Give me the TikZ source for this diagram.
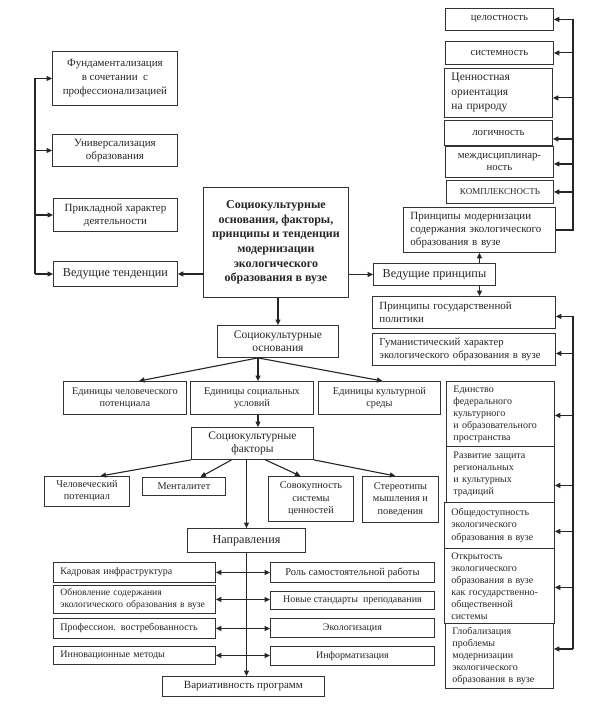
\documentclass[tikz,border=0pt]{standalone}
\usepackage{fontspec}
\setmainfont{Liberation Serif}
\usetikzlibrary{arrows.meta,calc}
\tikzset{
  bx/.style={draw=black!80, line width=0.9pt, anchor=north west, inner sep=1pt,
    align=center, text=black!85, font=\fontsize{10.3}{12}\selectfont},
  lbx/.style={bx, align=left, inner xsep=7pt},
  fa/.style={font=\fontsize{10}{12}\selectfont},
  fb/.style={font=\fontsize{10.8}{12.5}\selectfont},
  fc/.style={font=\fontsize{11}{13}\selectfont},
  fd/.style={font=\fontsize{10.7}{13}\selectfont},
  fe/.style={font=\fontsize{11.5}{13.5}\selectfont},
  ff/.style={font=\fontsize{12.2}{14}\selectfont},
  fg/.style={font=\fontsize{12.2}{14.6}\selectfont},
  fbold/.style={font=\fontsize{12}{14.6}\selectfont\bfseries},
  ln/.style={line width=1.1pt, draw=black!85},
  arr/.style={ln, -{Triangle[length=5.5pt,width=5pt]}},
  darr/.style={ln, {Triangle[length=5.5pt,width=5pt]}-{Triangle[length=5.5pt,width=5pt]}}
}
\newcommand\bx[7][]{\node[bx,minimum width={(#5)-(#3)},minimum height={(#6)-(#4)},#1] (#2) at (#3,#4) {#7};}
\newcommand\lbx[7][]{\node[lbx,minimum width={(#5)-(#3)},minimum height={(#6)-(#4)},text width={(#5)-(#3)-14},#1] (#2) at (#3,#4) {#7};}
\begin{document}
\begin{tikzpicture}[x=1pt,y=-1pt]
\fill[white] (0,0) rectangle (593,706);
\useasboundingbox (0,0) rectangle (593,706);
% left column
\bx[font=\fontsize{11}{14}\selectfont]{L1}{52}{51}{177}{105}{Фундаментализация\\в сочетании~ с\\профессионализацией}
\bx[fc]{L2}{52}{134}{177}{166}{Универсализация\\образования}
\bx[fc]{L3}{53}{198}{177}{231}{Прикладной характер\\деятельности}
\bx[ff]{L4}{53}{261}{177}{286}{Ведущие тенденции}
% center
\bx[fbold]{C}{203}{187}{348}{297}{Социокультурные\\основания, факторы,\\принципы и тенденции\\модернизации\\экологического\\образования в вузе}
% right top
\bx[fb]{R1}{445}{8}{553}{30}{целостность}
\bx[fb]{R2}{445}{41}{553}{64}{системность}
\lbx[font=\fontsize{11.5}{14.5}\selectfont]{R3}{444}{68}{552}{117}{Ценностная\\ориентация\\на природу}
\bx[fb]{R4}{444}{120}{552}{145}{логичность}
\bx[fb]{R5}{445}{146}{553}{177}{междисциплинар-\\ность}
\bx[font=\fontsize{9}{11}\selectfont]{R6}{446}{180}{553}{203}{КОМПЛЕКСНОСТЬ}
\lbx[font=\fontsize{11}{13}\selectfont]{PM}{403}{207}{555}{252}{Принципы модернизации\\содержания экологического\\образования в вузе}
\bx[fg]{P}{373}{263}{495}{285}{Ведущие принципы}
% right lower
\lbx[font=\fontsize{11}{13}\selectfont]{G1}{372}{296}{555}{328}{Принципы государственной\\политики}
\lbx[fd]{G2}{372}{333}{555}{365}{Гуманистический характер\\экологического образования в вузе}
\lbx[fa]{G3}{446}{381}{554}{446}{Единство\\федерального\\культурного\\и образовательного\\пространства}
\lbx[fa]{G4}{446}{446}{554}{502}{Развитие защита\\региональных\\и культурных\\традиций}
\lbx[font=\fontsize{10}{12.5}\selectfont]{G5}{444}{502}{554}{548}{Общедоступность\\экологического\\образования в вузе}
\lbx[fa]{G6}{444}{548}{554}{623}{Открытость\\экологического\\образования в вузе\\как государственно-\\общественной\\системы}
\lbx[fa]{G7}{445}{623}{553}{688}{Глобализация\\проблемы\\модернизации\\экологического\\образования в вузе}
% middle
\bx[fe]{S1}{217}{325}{338}{357}{Социокультурные\\основания}
\bx{E1}{63}{381}{186}{414}{Единицы человеческого\\потенциала}
\bx{E2}{190}{381}{313}{414}{Единицы социальных\\условий}
\bx{E3}{318}{381}{440}{414}{Единицы культурной\\среды}
\bx[fe]{F}{191}{427}{313}{459}{Социокультурные\\факторы}
\bx{H1}{44}{476}{129}{506}{Человеческий\\потенциал}
\bx{H2}{142}{477}{225}{495}{Менталитет}
\bx[font=\fontsize{10.3}{12.5}\selectfont]{H3}{268}{476}{353}{521}{Совокупность\\системы\\ценностей}
\bx[font=\fontsize{10.3}{12.5}\selectfont]{H4}{362}{476}{438}{522}{Стереотипы\\мышления и\\поведения}
\bx[fg]{N}{187}{528}{305}{552}{Направления}
% directions
\lbx[fa]{K1}{53}{562}{215}{582}{Кадровая инфраструктура}
\lbx[font=\fontsize{9.6}{12}\selectfont]{K2}{53}{585}{215}{613}{Обновление содержания\\экологического образования в вузе}
\lbx[fa]{K3}{53}{618}{215}{638}{Профессион. востребованность}
\lbx[fa]{K4}{53}{646}{215}{664}{Инновационные методы}
\bx[font=\fontsize{10.5}{12}\selectfont]{M1}{270}{562}{434}{582}{Роль самостоятельной работы}
\bx[fa]{M2}{270}{591}{434}{609}{Новые стандарты~ преподавания}
\bx[fa]{M3}{270}{618}{434}{637}{Экологизация}
\bx[fa]{M4}{270}{646}{434}{665}{Информатизация}
\bx[fc]{V}{162}{676}{324}{696}{Вариативность программ}
% connectors: left rail
\coordinate (lr) at (35,0);
\draw[ln] (lr |- L1.west) -- (lr |- L4.west);
\foreach \n in {L1,L2,L3,L4} \draw[arr] (lr |- \n.west) -- (\n.west);
\draw[arr] (C.west |- L4.east) -- (L4.east);
% center to principles
\draw[arr] (C.east |- P.west) -- (P.west);
\draw[arr] (P.north -| PM.south) -- (PM.south);
\draw[arr] (P.south -| PM.south) -- (G1.north -| PM.south);
% top right rail
\coordinate (tr) at (573,0);
\draw[ln] (PM.east) -- (tr |- PM.east) -- (tr |- R1.east);
\draw[arr] (tr |- R1.east) -- (R1.east);
\draw[arr] (tr |- R2.east) -- (R2.east);
\draw[arr] ([yshift=-5pt]tr |- R3.east) -- ([yshift=-5pt]R3.east);
\draw[arr] ([yshift=-6pt]tr |- R4.east) -- ([yshift=-6pt]R4.east);
\draw[arr] ([yshift=-2pt]tr |- R5.east) -- ([yshift=-2pt]R5.east);
\draw[arr] (tr |- R6.east) -- (R6.east);
% bottom right rail
\coordinate (br) at (573,0);
\draw[ln] ([yshift=-4pt]br |- G1.east) -- ([yshift=7pt]br |- G7.east);
\draw[arr] ([yshift=-4pt]br |- G1.east) -- ([yshift=-4pt]G1.east);
\draw[arr] ([yshift=-4pt]br |- G2.east) -- ([yshift=-4pt]G2.east);
\draw[arr] ([yshift=-1.5pt]br |- G3.east) -- ([yshift=-1.5pt]G3.east);
\draw[arr] ([yshift=-11pt]br |- G4.east) -- ([yshift=-11pt]G4.east);
\draw[arr] ([yshift=-6pt]br |- G5.east) -- ([yshift=-6pt]G5.east);
\draw[arr] ([yshift=-1.5pt]br |- G6.east) -- ([yshift=-1.5pt]G6.east);
\draw[arr] ([yshift=7pt]br |- G7.east) -- ([yshift=7pt]G7.east);
% center downward
\draw[arr] (C.south -| S1.north) -- (S1.north);
\coordinate (so) at ([xshift=-20pt]S1.south);
\draw[arr] (so) -- ([xshift=14pt]E1.north);
\draw[arr] (so) -- (so |- E2.north);
\draw[arr] (so) -- ([xshift=3pt]E3.north);
\draw[arr] (so |- E2.south) -- (so |- F.north);
\draw[arr] (F.south west) -- ([xshift=13.5pt]H1.north);
\draw[arr] ([xshift=-21pt]F.south) -- ([xshift=16.5pt]H2.north);
\draw[arr] (N.north |- F.south) -- (N.north);
\draw[arr] ([xshift=13pt]F.south) -- ([xshift=-10.5pt]H3.north);
\draw[arr] (F.south east) -- ([xshift=-5pt]H4.north);
% directions
\draw[arr] (N.south) -- (N.south |- V.north);
\draw[darr] (K1.east) -- (K1.east -| M1.west);
\draw[darr] (K2.east) -- (K2.east -| M2.west);
\draw[darr] (K3.east) -- (K3.east -| M3.west);
\draw[darr] (K4.east) -- (K4.east -| M4.west);
\end{tikzpicture}
\end{document}
